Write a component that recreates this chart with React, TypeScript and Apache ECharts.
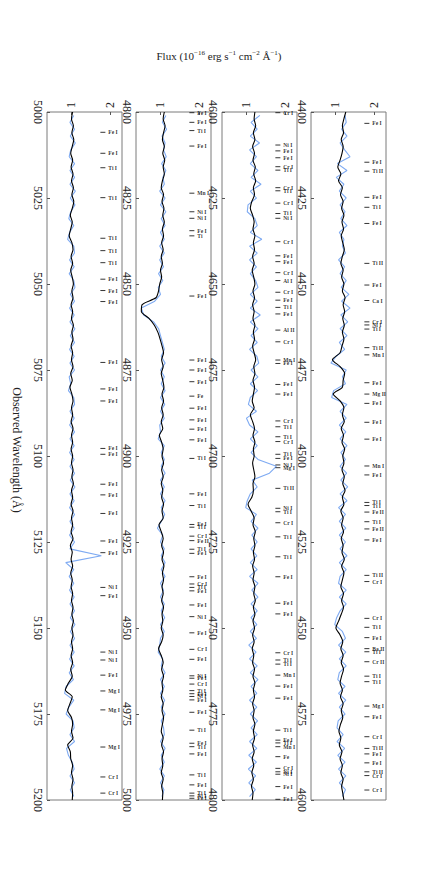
import React, { useEffect, useRef } from 'react';
import * as echarts from 'echarts';

// ---------------- data ----------------
const panelStarts = [5000, 4800, 4600, 4400];
const panelSpan = 200;
const wavelengthInterval = 25;
const fluxTickValues = [1, 2];
const fluxMin = 0.36;
const fluxMax = 2.32;

// smoothed spectrum, sampled every 2 Å from the panel start
const smooth5000 = [
  1.03, 1.00, 1.05, 1.01, 1.06, 1.02, 0.98, 1.03, 0.99, 1.04,
  1.00, 1.05, 1.01, 1.06, 1.02, 0.97, 1.02, 0.98, 0.94, 1.01,
  1.04, 0.99, 1.03, 0.98, 1.02, 1.05, 1.01, 1.04, 0.99, 1.03,
  1.00, 1.05, 1.01, 1.04, 0.99, 1.03, 1.00, 1.04, 0.98, 1.02,
  0.96, 1.01, 1.04, 1.00, 1.03, 0.99, 1.04, 1.00, 1.03, 0.99,
  1.03, 1.00, 1.04, 1.01, 1.05, 1.00, 1.03, 0.99, 1.04, 1.00,
  1.03, 0.99, 1.04, 0.97, 1.02, 0.99, 1.03, 0.98, 1.02, 0.99,
  1.03, 1.00, 1.04, 1.01, 1.05, 1.01, 1.04, 1.00, 1.03, 0.99,
  1.03, 0.98, 1.02, 0.92, 0.84, 1.02, 0.96, 0.90, 1.00, 1.03,
  1.00, 1.04, 0.90, 0.97, 0.98, 1.03, 1.00, 1.04, 1.01, 1.03,
  1.02,
];
const smooth4800 = [
  1.10, 1.07, 1.12, 1.08, 1.05, 1.10, 1.06, 1.11, 1.07, 1.10,
  1.05, 1.02, 1.08, 1.04, 1.09, 1.06, 1.10, 1.05, 1.08, 1.03,
  1.07, 1.02, 1.05, 1.00, 1.03, 0.98, 0.95, 0.88, 0.52, 0.50,
  0.70, 0.84, 0.93, 0.99, 1.04, 1.08, 1.03, 1.07, 1.02, 1.06,
  1.09, 1.04, 1.08, 1.03, 1.07, 1.02, 1.06, 0.97, 1.03, 1.07,
  1.04, 1.08, 1.03, 1.07, 1.02, 1.06, 1.03, 1.08, 1.04, 1.07,
  0.96, 1.02, 1.07, 1.03, 1.08, 1.04, 1.09, 1.05, 1.08, 1.04,
  1.07, 1.03, 1.08, 1.04, 1.06, 1.02, 1.07, 1.03, 0.95, 1.02,
  1.07, 1.03, 1.08, 1.04, 1.06, 1.02, 1.07, 1.04, 1.08, 1.05,
  1.02, 1.07, 1.03, 1.08, 1.04, 1.06, 1.02, 1.07, 1.03, 1.06,
  1.05,
];
const smooth4600 = [
  1.22, 1.20, 1.24, 1.18, 1.22, 1.16, 1.21, 1.17, 1.23, 1.19,
  1.24, 1.18, 1.21, 1.14, 1.10, 1.16, 1.20, 1.17, 1.22, 1.18,
  1.21, 1.16, 1.20, 1.15, 1.19, 1.22, 1.17, 1.21, 1.16, 1.20,
  1.17, 1.22, 1.18, 1.21, 1.16, 1.20, 1.24, 1.19, 1.22, 1.17,
  1.21, 1.18, 1.15, 1.20, 1.10, 1.16, 1.21, 1.17, 1.22, 1.18,
  1.20, 1.16, 1.19, 1.22, 1.17, 1.18, 1.14, 1.04, 1.12, 1.20,
  1.17, 1.23, 1.19, 1.22, 1.18, 1.21, 1.16, 1.20, 1.17, 1.22,
  1.19, 1.23, 1.18, 1.22, 1.17, 1.21, 1.16, 1.20, 1.15, 1.19,
  1.16, 1.21, 1.17, 1.22, 1.18, 1.21, 1.16, 1.20, 1.17, 1.22,
  1.18, 1.21, 1.16, 1.20, 1.15, 1.19, 1.14, 1.18, 1.13, 1.17,
  1.15,
];
const smooth4400 = [
  1.27, 1.22, 1.18, 1.21, 1.15, 1.20, 1.17, 1.12, 1.06, 1.14,
  1.08, 1.18, 1.13, 1.20, 1.16, 1.22, 1.17, 1.21, 1.15, 1.19,
  1.23, 1.18, 1.14, 1.20, 1.16, 1.22, 1.18, 1.25, 1.20, 1.24,
  1.19, 1.23, 1.18, 1.22, 1.17, 1.12, 0.92, 1.12, 1.24, 1.20,
  1.18, 0.94, 1.12, 1.22, 1.18, 1.23, 1.15, 1.21, 1.17, 1.24,
  1.19, 1.22, 1.17, 1.23, 1.19, 1.25, 1.18, 1.22, 1.14, 1.20,
  1.16, 1.21, 1.15, 1.20, 1.17, 1.23, 1.16, 1.22, 1.18, 1.14,
  1.21, 1.16, 1.21, 1.15, 1.08, 1.01, 1.12, 1.19, 1.14, 1.20,
  1.15, 1.21, 1.16, 1.12, 1.18, 1.13, 1.20, 1.15, 1.19, 1.13,
  1.09, 1.14, 1.10, 1.17, 1.12, 1.18, 1.14, 1.20, 1.16, 1.19,
  1.22,
];

// observed (noisy) spectrum, sampled every 2 Å starting 1 Å after the panel start
const raw5000 = [
  1.06, 0.96, 1.08, 0.97, 1.10, 0.98, 0.94, 1.08, 0.96, 1.08,
  0.96, 1.10, 0.97, 1.09, 0.98, 0.93, 1.06, 0.95, 0.90, 1.06,
  1.08, 0.95, 1.07, 0.94, 1.06, 1.09, 0.97, 1.08, 0.95, 1.07,
  0.96, 1.09, 0.97, 1.08, 0.95, 1.07, 0.96, 1.08, 0.94, 0.98,
  0.92, 1.06, 1.08, 0.96, 1.07, 0.95, 1.08, 0.96, 1.07, 0.95,
  1.07, 0.96, 1.08, 0.97, 1.09, 0.96, 1.07, 0.95, 1.08, 0.96,
  1.07, 0.95, 1.08, 0.96, 1.78, 0.85, 1.06, 0.94, 1.06, 0.95,
  1.07, 0.96, 1.08, 0.97, 1.09, 0.97, 1.08, 0.96, 1.07, 0.95,
  1.07, 0.94, 1.05, 0.86, 0.82, 1.06, 0.93, 0.86, 1.04, 1.07,
  0.96, 1.08, 0.87, 0.92, 1.02, 1.07, 0.96, 1.08, 0.97, 1.06,
];
const raw4800 = [
  1.14, 1.05, 1.16, 1.04, 1.12, 1.08, 1.15, 1.03, 1.14, 1.06,
  1.10, 0.98, 1.12, 1.00, 1.14, 1.02, 1.12, 1.00, 1.10, 0.98,
  1.10, 0.98, 1.08, 0.95, 1.06, 0.94, 1.00, 0.85, 0.50, 0.56,
  0.82, 0.95, 1.00, 1.05, 1.10, 1.02, 1.12, 1.00, 1.10, 1.02,
  1.12, 1.00, 1.11, 1.00, 1.10, 0.98, 1.00, 0.94, 1.10, 1.02,
  1.10, 1.02, 1.12, 1.00, 1.10, 1.00, 1.12, 1.02, 1.11, 1.02,
  0.92, 1.06, 1.00, 1.10, 1.02, 1.12, 1.02, 1.12, 1.00, 1.08,
  1.00, 1.10, 1.02, 1.11, 1.00, 1.10, 1.00, 0.98, 0.94, 1.06,
  1.02, 1.12, 1.00, 1.10, 1.00, 1.11, 1.02, 1.12, 1.02, 1.08,
  1.10, 1.00, 1.12, 1.02, 1.10, 0.98, 1.10, 1.00, 1.09, 1.04,
];
const raw4600 = [
  1.35, 1.12, 1.28, 1.10, 1.34, 1.08, 1.26, 1.10, 1.30, 1.12,
  1.38, 1.10, 1.26, 1.04, 1.02, 1.22, 1.28, 1.10, 1.40, 1.08,
  1.28, 1.08, 1.26, 1.10, 1.24, 1.30, 1.10, 1.28, 1.10, 1.36,
  1.10, 1.30, 1.12, 1.28, 1.08, 1.27, 1.32, 1.12, 1.30, 1.10,
  1.29, 1.10, 1.05, 1.26, 1.00, 1.08, 1.30, 1.10, 1.28, 1.12,
  1.30, 1.78, 1.60, 1.15, 1.28, 1.10, 1.02, 0.98, 1.26, 1.12,
  1.30, 1.14, 1.28, 1.12, 1.27, 1.10, 1.28, 1.08, 1.30, 1.14,
  1.30, 1.12, 1.28, 1.12, 1.27, 1.10, 1.26, 1.06, 1.25, 1.08,
  1.28, 1.10, 1.30, 1.12, 1.27, 1.08, 1.27, 1.10, 1.29, 1.12,
  1.28, 1.08, 1.27, 1.06, 1.26, 1.05, 1.24, 1.06, 1.23, 1.08,
];
const raw4400 = [
  1.25, 1.28, 1.16, 1.30, 1.12, 1.24, 1.38, 1.05, 1.30, 1.02,
  1.22, 1.10, 1.28, 1.12, 1.25, 1.14, 1.30, 1.10, 1.22, 1.18,
  1.26, 1.08, 1.24, 1.12, 1.28, 1.15, 1.35, 1.16, 1.38, 1.14,
  1.32, 1.12, 1.30, 1.10, 1.24, 1.02, 0.88, 1.28, 1.18, 1.26,
  0.95, 0.90, 1.30, 1.12, 1.28, 1.10, 1.27, 1.12, 1.30, 1.14,
  1.26, 1.12, 1.29, 1.14, 1.32, 1.12, 1.30, 1.08, 1.26, 1.10,
  1.27, 1.10, 1.26, 1.12, 1.30, 1.10, 1.28, 1.12, 1.08, 1.28,
  1.10, 1.28, 1.12, 1.03, 0.98, 1.18, 1.26, 1.08, 1.27, 1.10,
  1.28, 1.10, 1.06, 1.25, 1.08, 1.27, 1.10, 1.25, 1.07, 1.04,
  1.20, 1.04, 1.24, 1.06, 1.25, 1.08, 1.27, 1.10, 1.26, 1.18,
];

// line identifications
const lineWavelengths = [
  // 4400-4600
  4403.3, 4414.6, 4417.2, 4424.8, 4427.7, 4432.4, 4444.0, 4450.3, 4454.8, 4461.0,
  4461.9, 4463.1, 4468.5, 4470.6, 4478.7, 4482.0, 4484.7, 4490.2, 4495.1, 4502.9,
  4505.5, 4513.5, 4514.4, 4516.3, 4519.1, 4521.2, 4524.4, 4534.7, 4536.5, 4547.2,
  4549.8, 4552.8, 4556.0, 4556.9, 4559.8, 4564.0, 4565.6, 4572.7, 4575.8, 4581.6,
  4585.0, 4586.6, 4589.2, 4591.8, 4592.9, 4597.1,
  // 4600-4800
  4600.2, 4609.6, 4611.3, 4613.3, 4615.9, 4616.9, 4622.0, 4622.9, 4626.5, 4629.5,
  4630.9, 4637.7, 4641.8, 4643.5, 4646.7, 4649.0, 4652.4, 4654.7, 4656.8, 4658.7,
  4663.4, 4666.8, 4672.1, 4673.1, 4679.2, 4682.0, 4689.8, 4691.5, 4694.4, 4695.8,
  4699.5, 4700.7, 4702.6, 4703.4, 4709.4, 4715.2, 4716.2, 4719.4, 4723.5, 4729.3,
  4735.1, 4742.8, 4745.9, 4757.2, 4759.3, 4760.5, 4763.7, 4766.9, 4770.4, 4779.7,
  4782.6, 4783.4, 4784.5, 4787.4, 4790.8, 4791.8, 4792.5, 4796.1, 4799.8,
  // 4800-5000
  4800.2, 4803.0, 4805.4, 4809.9, 4823.6, 4829.0, 4830.9, 4834.5, 4836.0, 4853.5,
  4872.1, 4875.0, 4878.4, 4882.6, 4886.1, 4889.5, 4892.2, 4895.3, 4900.7, 4911.0,
  4914.4, 4919.9, 4920.7, 4923.3, 4924.6, 4927.1, 4928.3, 4935.1, 4937.2, 4938.2,
  4939.2, 4943.3, 4946.7, 4951.4, 4956.2, 4959.1, 4963.9, 4964.6, 4966.3, 4968.2,
  4969.1, 4969.9, 4970.9, 4974.5, 4979.7, 4983.5, 4984.5, 4986.6, 4992.7, 4995.6,
  4998.0, 4998.8, 4999.5,
  // 5000-5200
  5005.9, 5012.0, 5016.2, 5024.9, 5036.7, 5040.3, 5043.8, 5048.6, 5051.9, 5055.1,
  5072.8, 5080.5, 5084.0, 5097.8, 5099.5, 5108.2, 5111.3, 5116.7, 5124.7, 5128.1,
  5138.2, 5140.6, 5157.0, 5159.3, 5163.7, 5168.3, 5173.8, 5184.6, 5193.3, 5198.0,
];
const lineNames = [
  // 4400-4600
  'Fe I', 'Fe I', 'Ti II', 'Fe I', 'Ti I', 'Fe I', 'Ti II', 'Fe I', 'Ca I', 'Cr I',
  'Ni I', 'Ti I', 'Ti II', 'Mn I', 'Fe I', 'Mg II', 'Fe I', 'Fe I', 'Fe I', 'Mn I',
  'Fe I', 'Ti I', 'Ti I', 'Fe II', 'Ti I', 'Fe II', 'Fe I', 'Ti II', 'Cr I', 'Cr I',
  'Ti I', 'Fe I', 'Ba II', 'Ti I', 'Cr II', 'Ti I', 'Ti I', 'Mg I', 'Fe I', 'Cr I',
  'Ti II', 'Fe I', 'Fe I', 'Ti II', 'Cr I', 'Cr I',
  // 4600-4800
  'Cr I', 'Ni I', 'Fe I', 'Fe I', 'Cr I', 'Ti I', 'Cr I', 'Ti I', 'Cr I', 'Ti I',
  'Ni I', 'Cr I', 'Fe I', 'Fe I', 'Cr I', 'Al I', 'Cr I', 'Fe I', 'Ti I', 'Fe I',
  'Al II', 'Cr I', 'Mn I', 'Fe I', 'Fe I', 'Fe I', 'Cr I', 'Ti I', 'Ti I', 'Cr I',
  'Ti I', 'Fe I', 'Ni I', 'Mg I', 'Ti II', 'Ni I', 'Ti I', 'Cr I', 'Ti I', 'Ti I',
  'Fe I', 'Fe I', 'Fe I', 'Cr I', 'Ti I', 'Ti I', 'Mn I', 'Fe I', 'Fe I', 'Ti I',
  'Fe I', 'Ti I', 'Mn I', 'Fe', 'Cr I', 'Ni I', 'Ni I', 'Fe I', 'Fe I',
  // 4800-5000
  'Fe I', 'Fe I', 'Ti I', 'Fe I', 'Mn I', 'Ni I', 'Ni I', 'Fe I', 'Ti', 'Fe I',
  'Fe I', 'Fe I', 'Fe I', 'Fe', 'Fe I', 'Fe I', 'Fe I', 'Fe I', 'Ti I', 'Fe I',
  'Ti I', 'Fe I', 'Ti I', 'Cr I', 'Fe II', 'Ti I', 'Fe I', 'Fe I', 'Cr I', 'Ti I',
  'Fe I', 'Fe I', 'Ni I', 'Fe I', 'Cr I', 'Fe I', 'Ni I', 'Fe I', 'Cr I', 'Ti I',
  'Fe I', 'Ni I', 'Fe I', 'Fe I', 'Ti I', 'Fe I', 'Ti I', 'Fe I', 'Ti I', 'Fe I',
  'Ti I', 'Ni I', 'Fe I',
  // 5000-5200
  'Fe I', 'Fe I', 'Ti I', 'Ti I', 'Ti I', 'Ti I', 'Ti I', 'Fe I', 'Fe I', 'Fe I',
  'Fe I', 'Fe I', 'Fe I', 'Fe I', 'Fe I', 'Fe I', 'Fe I', 'Fe I', 'Fe I', 'Fe I',
  'Ni I', 'Fe I', 'Ni I', 'Ni I', 'Fe I', 'Mg I', 'Mg I', 'Mg I', 'Cr I', 'Cr I',
];

const smoothByPanel = [smooth5000, smooth4800, smooth4600, smooth4400];
const rawByPanel = [raw5000, raw4800, raw4600, raw4400];

// ---------------- chart ----------------
const SERIF = '"Liberation Serif", "DejaVu Serif", "Times New Roman", serif';
const gridLefts = [47, 136, 222, 311];
const gridTop = 112;
const gridWidth = 75;
const gridHeight = 688;
const markerFlux = 1.82;

export default function App() {
  const ref = useRef<HTMLDivElement>(null);

  useEffect(() => {
    document.body.style.margin = '0';
    const chart = echarts.init(ref.current!, null, { renderer: 'svg' });

    const grids: any[] = [];
    const xAxes: any[] = [];
    const yAxes: any[] = [];
    const series: any[] = [];

    panelStarts.forEach((start, i) => {
      const end = start + panelSpan;
      grids.push({
        left: gridLefts[i],
        top: gridTop,
        width: gridWidth,
        height: gridHeight,
        show: true,
        borderColor: '#7a7a7a',
        borderWidth: 1,
        backgroundColor: 'transparent',
      });
      xAxes.push({
        gridIndex: i,
        type: 'value',
        position: 'top',
        min: fluxMin,
        max: fluxMax,
        axisLine: { show: false },
        splitLine: { show: false },
        axisTick: {
          show: true,
          inside: true,
          length: 3,
          customValues: fluxTickValues,
          lineStyle: { color: '#555' },
        },
        axisLabel: {
          show: true,
          customValues: fluxTickValues,
          rotate: -90,
          fontSize: 12,
          fontFamily: SERIF,
          color: '#222',
          margin: 4,
        },
      });
      yAxes.push({
        gridIndex: i,
        type: 'value',
        inverse: true,
        min: start,
        max: end,
        interval: wavelengthInterval,
        axisLine: { show: false },
        splitLine: { show: false },
        axisTick: { show: true, inside: true, length: 3, lineStyle: { color: '#555' } },
        axisLabel: {
          show: true,
          rotate: -90,
          fontSize: 12,
          fontFamily: SERIF,
          color: '#222',
          margin: 3,
          showMinLabel: true,
          showMaxLabel: true,
          formatter: (v: number) => String(v),
        },
      });

      const raw = rawByPanel[i].map((v, k) => [v, start + 1 + 2 * k]);
      const smooth = smoothByPanel[i].map((v, k) => [v, start + 2 * k]);
      series.push({
        type: 'line',
        xAxisIndex: i,
        yAxisIndex: i,
        data: raw,
        showSymbol: false,
        symbol: 'none',
        lineStyle: { color: '#7eaaf2', width: 1.1 },
        z: 1,
        silent: true,
      });
      series.push({
        type: 'line',
        xAxisIndex: i,
        yAxisIndex: i,
        data: smooth,
        showSymbol: false,
        symbol: 'none',
        smooth: 0.25,
        lineStyle: { color: '#000', width: 1.1 },
        z: 2,
        silent: true,
      });

      const marks: any[] = [];
      lineWavelengths.forEach((w, k) => {
        if (w >= start && w <= end) {
          marks.push({ name: lineNames[k], value: [markerFlux, w] });
        }
      });
      series.push({
        type: 'scatter',
        xAxisIndex: i,
        yAxisIndex: i,
        data: marks,
        symbol: 'rect',
        symbolSize: [5, 1],
        itemStyle: { color: '#000' },
        z: 3,
        silent: true,
        label: {
          show: true,
          position: 'right',
          distance: 3,
          formatter: '{b}',
          fontSize: 5.5,
          fontWeight: 'bold',
          fontFamily: SERIF,
          color: '#000',
        },
      });
    });

    chart.setOption({
      animation: false,
      backgroundColor: '#fff',
      title: {
        text: 'Flux (10{s|−16} erg s{s|−1} cm{s|−2} Å{s|−1})',
        left: 'center',
        top: 44,
        textStyle: {
          fontFamily: SERIF,
          fontSize: 11,
          fontWeight: 'normal',
          color: '#222',
          rich: {
            s: { fontSize: 7, fontFamily: SERIF, color: '#222', padding: [0, 0, 6, 0] },
          },
        },
      },
      graphic: [
        {
          type: 'text',
          x: 17,
          y: 450,
          rotation: -Math.PI / 2,
          style: {
            text: 'Observed Wavelength (Å)',
            fontSize: 12,
            fontFamily: SERIF,
            fill: '#222',
            align: 'center',
            verticalAlign: 'middle',
          },
        },
      ],
      grid: grids,
      xAxis: xAxes,
      yAxis: yAxes,
      series,
    });

    return () => chart.dispose();
  }, []);

  return <div ref={ref} style={{ width: 438, height: 896 }} />;
}
